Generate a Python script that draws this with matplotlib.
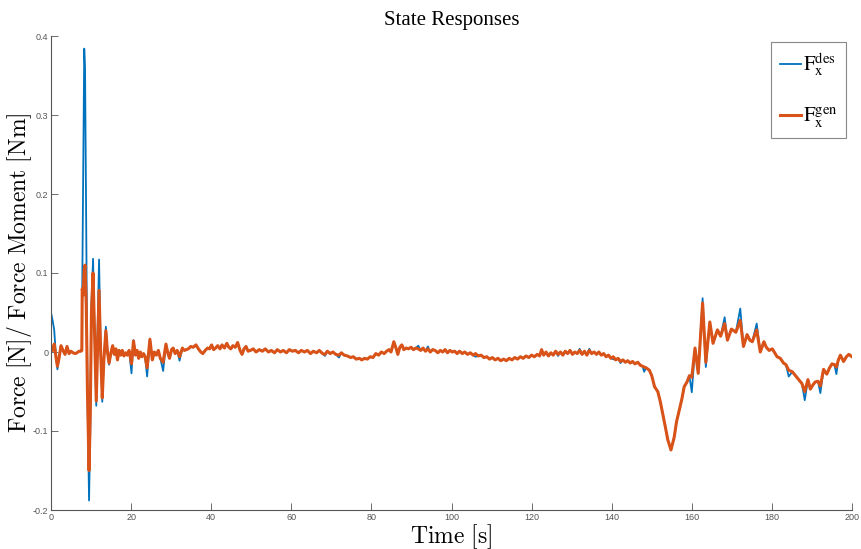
import matplotlib
matplotlib.use("Agg")
import matplotlib.pyplot as plt
import numpy as np

# ---- data ----
time = [0, 0.4, 0.8, 1.2, 1.6, 2.0, 2.5, 3.0, 3.5, 4.0, 4.5, 5.0, 5.5, 6.0, 6.5, 7.0, 7.5, 7.7,
        7.8, 8.0, 8.3, 8.5, 8.8, 9.1, 9.5, 9.8, 10.1, 10.5, 10.9, 11.3, 11.6, 12.0, 12.4, 12.8,
        13.2, 13.7, 14.1, 14.5, 15.0, 15.4, 15.8, 16.2, 16.6, 17.0, 17.4, 17.8, 18.2, 18.6, 19.0,
        19.5, 20.1, 20.6, 21.1, 21.5, 21.9, 22.3, 22.7, 23.1, 23.5, 24.0, 24.7, 25.3, 25.8, 26.3,
        26.8, 27.3, 28.0, 28.7, 29.2, 29.6, 30.1, 30.5, 31.0, 31.5, 32.1, 32.8, 33.3, 33.8, 34.3,
        34.9, 35.5, 36.2, 36.8, 37.4, 37.9, 38.5, 39.1, 39.6, 40.1, 40.6, 41.1, 41.6, 42.2, 42.7,
        43.3, 43.9, 44.4, 44.9, 45.4, 46.0, 46.6, 47.2, 47.7, 48.2, 48.7, 49.2, 49.8,
        50.5, 51.2, 52.0, 52.8, 53.5, 54.3, 55.0, 55.8, 56.5, 57.3, 58.0, 58.8, 59.5, 60.3, 61.0,
        61.8, 62.5, 63.3, 64.0, 64.8, 65.5, 66.3, 67.0, 67.8, 68.4, 69.0, 69.7, 70.4, 71.1, 71.9,
        72.5, 73.2, 74.0, 74.8, 75.5, 76.2, 77.0, 77.6, 78.3, 79.0, 79.7, 80.4, 81.1, 81.8, 82.5,
        83.2, 83.8, 84.4, 84.9, 85.6, 86.2, 86.6, 87.1, 87.6, 88.1, 88.7, 89.3, 89.9, 90.5, 91.1,
        91.7, 92.3, 92.9, 93.5, 94.1, 94.7, 95.3, 95.9, 96.6, 97.2, 97.8, 98.4, 99.0, 99.6, 100.2,
        100.8, 101.4, 102.0, 102.7, 103.3, 104.0, 104.7, 105.4, 106.0, 106.7, 107.4, 108.1, 108.8,
        109.5, 110.2, 110.9, 111.6, 112.3, 113.0, 113.7, 114.4, 115.1, 115.8, 116.5, 117.2, 117.9,
        118.6, 119.3, 120.0, 120.7, 121.4, 122.0, 122.5, 123.0, 123.6, 124.2, 124.8, 125.4, 126.0,
        126.6, 127.2, 127.8, 128.4, 129.0, 129.6, 130.2, 130.8, 131.4, 132.0, 132.6, 133.2, 133.8,
        134.4, 135.0, 135.6, 136.2, 136.8, 137.4, 138.0, 138.6, 139.2, 139.8, 140.4, 141.0, 141.6,
        142.2, 142.8, 143.4, 144.0, 144.6, 145.2, 145.8, 146.5, 147.2, 147.7, 148.1, 148.6, 149.4,
        150.0, 150.7, 151.5, 152.1, 152.7, 153.4, 154.0, 154.8, 155.6, 156.2, 156.9, 157.5, 158.1,
        158.8, 159.4, 160.0, 160.8, 161.6, 162.7, 163.5, 164.5, 165.3, 166.4, 167.2, 168.2, 168.9,
        169.9, 171.0, 172.1, 172.9, 173.8, 174.5, 175.1, 176.2, 177.1, 178.0, 178.6, 179.3, 180.1,
        180.7, 181.3, 182.1, 182.9, 183.5, 184.2, 185.1, 185.9, 186.7, 187.5, 188.2, 189.0, 189.6,
        190.2, 190.8, 191.5, 192.1, 192.9, 193.7, 194.4, 195.0, 195.6, 196.1, 196.6, 197.1, 197.9,
        198.6, 199.2, 200.0]

f_gen = [0.005, 0.002, 0.010, -0.005, -0.018, -0.008, 0.008, 0.002, -0.003, 0.007, -0.002, 0.001,
         -0.001, -0.002, -0.001, 0.001, 0.001, 0.002,
         0.080, 0.072, 0.105, 0.110, 0.060, -0.050, -0.150, -0.080, 0.050, 0.100, 0.020, -0.062,
         0.000, 0.078, 0.000, -0.058,
         -0.010, 0.027, 0.000, -0.014, 0.000, 0.008, -0.003, 0.004, -0.010, 0.002, -0.004, 0.002,
         -0.005, -0.001, -0.004,
         0.002, -0.015, 0.014, -0.004, 0.002, -0.008, 0.000, -0.006, -0.002, -0.006, -0.020, 0.016,
         -0.010, 0.000, -0.004,
         0.002, -0.008, -0.013, 0.010, -0.002, -0.008, 0.003, 0.005, -0.002, 0.002, -0.006, 0.005,
         0.002, 0.003, 0.004,
         0.007, 0.006, 0.009, 0.004, 0.000, -0.002, 0.002, 0.005, 0.004, 0.009, 0.003, 0.005, 0.008,
         0.004, 0.009,
         0.005, 0.011, 0.006, 0.004, 0.008, 0.006, 0.012, 0.002, -0.003, 0.004, 0.007, 0.001, 0.002,
         0.004, 0.000, 0.003, 0.001, 0.004, 0.000, 0.002, -0.001, 0.003, 0.000, 0.002, -0.001,
         0.003, 0.001, 0.002,
         -0.001, 0.002, 0.000, 0.002, -0.002, 0.001, -0.001, 0.002, -0.002, -0.003, 0.001, -0.002,
         0.000, -0.003, -0.004,
         -0.001, -0.004, -0.005, -0.007, -0.006, -0.009, -0.008, -0.010, -0.008, -0.009, -0.006,
         -0.007, -0.002, -0.004, 0.000,
         -0.002, 0.001, 0.003, 0.000, 0.013, 0.004, -0.003, 0.006, 0.009, 0.003, 0.005, 0.004,
         0.006, 0.003, 0.005,
         0.004, 0.002, 0.005, 0.001, 0.004, 0.000, 0.003, 0.002, -0.001, 0.002, 0.000, 0.003,
         -0.001, 0.002, 0.000,
         0.001, -0.002, 0.001, -0.002, 0.000, -0.003, -0.001, -0.004, -0.002, -0.005, -0.004,
         -0.007, -0.006,
         -0.009, -0.007, -0.010, -0.008, -0.011, -0.009, -0.011, -0.008, -0.010, -0.007, -0.009,
         -0.006, -0.008,
         -0.005, -0.007, -0.004, -0.006, -0.003, -0.005, 0.003, -0.004, 0.000, -0.005, -0.001,
         -0.004, 0.001,
         -0.003, 0.000, -0.004, 0.001, -0.002, 0.002, -0.003, 0.000, -0.002, 0.002, -0.003, 0.001,
         -0.004,
         0.002, -0.002, 0.000, -0.003, 0.000, -0.004, -0.002, -0.006, -0.004, -0.008, -0.006,
         -0.010, -0.008,
         -0.012, -0.010, -0.013, -0.011, -0.014, -0.012, -0.015, -0.013, -0.017, -0.018, -0.019,
         -0.020, -0.023,
         -0.030, -0.044, -0.050, -0.062, -0.077, -0.095, -0.111, -0.124, -0.108, -0.088, -0.073,
         -0.060, -0.044,
         -0.038, -0.030, -0.032, 0.005, -0.027, 0.062, -0.013, 0.038, 0.011, 0.028, 0.020, 0.036,
         0.015,
         0.029, 0.025, 0.040, 0.007, 0.022, 0.015, 0.013, 0.028, 0.000, 0.013, 0.006, 0.002, 0.004,
         -0.001, -0.006, -0.008, -0.014, -0.016, -0.023, -0.025, -0.030, -0.035, -0.040, -0.050,
         -0.035, -0.047,
         -0.042, -0.038, -0.037, -0.043, -0.022, -0.028, -0.020, -0.015, -0.016, -0.019, -0.010,
         -0.004, -0.012,
         -0.006, -0.003, -0.006]

# desired force differs from generated force only at these instants
des_diff_time = [0, 0.4, 0.8, 1.2, 1.6, 8.0, 8.3, 8.5, 8.8, 9.5, 9.8, 10.1, 10.5, 11.3, 11.6, 12.0,
                 12.8, 13.7, 14.5, 20.1, 20.6, 24.0, 24.7, 28.0, 32.1, 68.4, 71.9, 91.7, 94.1,
                 106.0, 126.6, 132.0, 134.4, 140.4, 142.2, 148.1, 160.0, 162.7, 163.5, 168.2,
                 172.1, 176.2, 184.2, 188.2, 192.1, 196.1]
des_diff_value = [0.050, 0.040, 0.028, -0.002, -0.022, 0.200, 0.384, 0.360, 0.150, -0.188, -0.100,
                  0.060, 0.118, -0.068, 0.020, 0.117, -0.063, 0.032, -0.016, -0.027, 0.015,
                  -0.031, 0.017, -0.024, -0.011, -0.005, -0.007, 0.008, 0.007, -0.006, -0.005,
                  0.004, 0.004, -0.009, -0.014, -0.025, -0.051, 0.068, -0.019, 0.044, 0.055,
                  0.036, -0.031, -0.061, -0.052, -0.028]

x_ticks = [0, 20, 40, 60, 80, 100, 120, 140, 160, 180, 200]
y_ticks = [-0.2, -0.1, 0, 0.1, 0.2, 0.3, 0.4]
y_tick_labels = ["-0.2", "-0.1", "0", "0.1", "0.2", "0.3", "0.4"]

# build desired series
f_des = list(f_gen)
for tt, vv in zip(des_diff_time, des_diff_value):
    f_des[time.index(tt)] = vv

# ---- plot ----
plt.rcParams['mathtext.fontset'] = 'stix'
fig = plt.figure(figsize=(8.61, 5.49), dpi=100)
ax = fig.add_axes([51/861, 1-510/549, (852-51)/861, (510-36)/549])

blue = '#0072BD'
orange = '#D95319'
ax.plot(time, f_des, color=blue, lw=1.3, label=r'$\mathrm{F}_\mathrm{x}^\mathrm{des}$')
ax.plot(time, f_gen, color=orange, lw=2.2, label=r'$\mathrm{F}_\mathrm{x}^\mathrm{gen}$')

ax.set_xlim(0, 200)
ax.set_ylim(-0.2, 0.4)
ax.set_xticks(x_ticks)
ax.set_xticklabels([str(v) for v in x_ticks])
ax.set_yticks(y_ticks)
ax.set_yticklabels(y_tick_labels)

for s in ['top', 'right']:
    ax.spines[s].set_visible(False)
for s in ['left', 'bottom']:
    ax.spines[s].set_color('#555555')
    ax.spines[s].set_linewidth(0.8)
ax.tick_params(direction='in', length=5, width=0.6, color='#555555',
               labelsize=6.5, labelcolor='#555555', pad=2)
for lab in ax.get_xticklabels() + ax.get_yticklabels():
    lab.set_family('Liberation Sans')

ax.set_title('State Responses', family='Liberation Serif', fontsize=15, pad=8)
ax.set_xlabel(r'$\mathrm{Time\ [s]}$', fontsize=17, labelpad=0)
ax.set_ylabel(r'$\mathrm{Force\ [N]/\ Force\ Moment\ [Nm]}$', fontsize=17, labelpad=-1)
ax.xaxis.label.set_math_fontfamily('cm')
ax.yaxis.label.set_math_fontfamily('cm')

leg = ax.legend(loc='upper right', fontsize=15, handlelength=1.0, handletextpad=0.1,
                borderpad=0.4, labelspacing=1.3, fancybox=False, framealpha=1,
                borderaxespad=0.3, bbox_to_anchor=(1.0, 1.0))
leg.get_frame().set_edgecolor('#888888')
leg.get_frame().set_linewidth(0.8)

fig.savefig('out.png', dpi=100)
